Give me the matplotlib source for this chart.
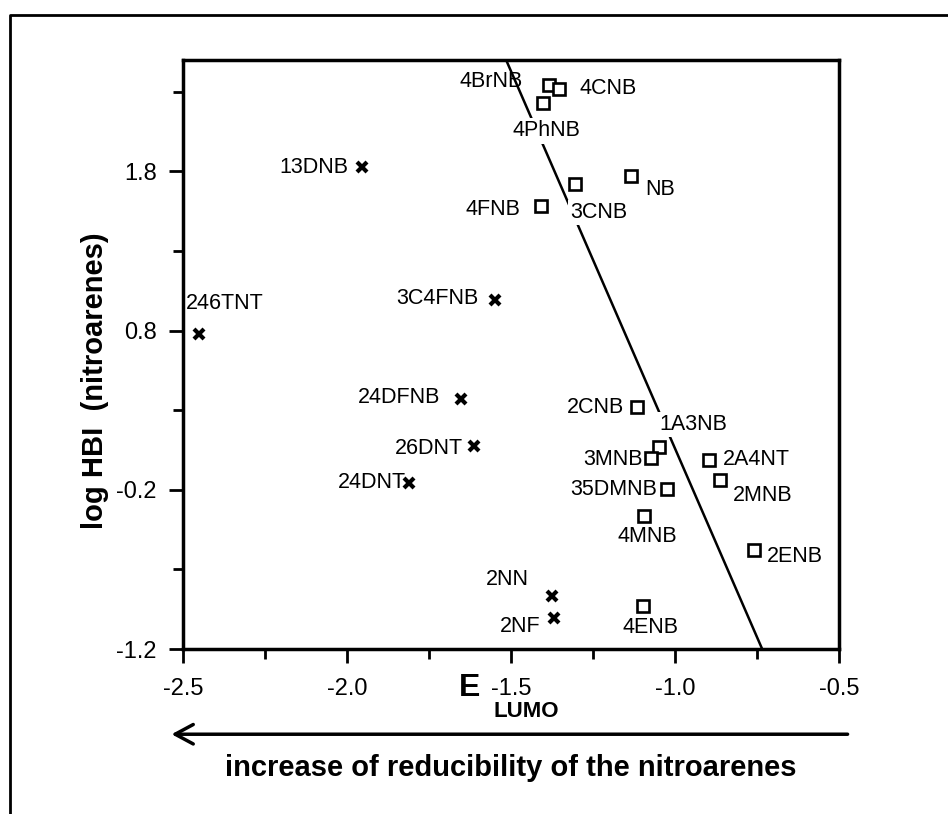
""" Hydrogen-bond index of nitroarenes against LUMO energy. """
import numpy as np
import matplotlib as mpl
mpl.use('Agg')
import matplotlib.pyplot as plt
from matplotlib.lines import Line2D

plt.rcParams['font.family'] = ['Liberation Sans', 'DejaVu Sans']

# mono-substituted / simple nitrobenzenes (open squares)
sq_names = ['4BrNB', '4CNB', '4PhNB', 'NB', '3CNB', '4FNB', '2CNB', '1A3NB',
            '3MNB', '2A4NT', '2MNB', '35DMNB', '4MNB', '2ENB', '4ENB']
sq_elumo = [-1.385, -1.354, -1.403, -1.133, -1.305, -1.408, -1.116, -1.050,
            -1.074, -0.896, -0.864, -1.025, -1.095, -0.760, -1.099]
sq_loghbi = [2.34, 2.315, 2.23, 1.77, 1.72, 1.58, 0.319, 0.07,
             0.0, -0.012, -0.136, -0.196, -0.365, -0.58, -0.933]

# poly-nitro and fused compounds (crosses)
x_names = ['13DNB', '246TNT', '3C4FNB', '24DFNB', '26DNT', '24DNT', '2NN', '2NF']
x_elumo = [-1.954, -2.45, -1.548, -1.651, -1.613, -1.810, -1.376, -1.370]
x_loghbi = [1.825, 0.78, 0.99, 0.368, 0.078, -0.157, -0.867, -1.007]

# regression line for the nitrobenzene series
fit_slope = -4.74
fit_intercept = -4.68
fit_x = [-1.515, -0.734]

# label placement: offset in pixels from the marker (dx, dy)
label_offsets = {
    '4BrNB': (-58, 4), '4CNB': (49, 1), '4PhNB': (4, -28), 'NB': (29, -13),
    '3CNB': (24, -28), '4FNB': (-48, -3), '2CNB': (-41, 0), '1A3NB': (35, 22),
    '3MNB': (-38, -2), '2A4NT': (47, 0), '2MNB': (43, -16), '35DMNB': (-53, 0),
    '4MNB': (3, -20), '2ENB': (41, -6), '4ENB': (8, -21),
    '13DNB': (-48, 0), '246TNT': (25, 30), '3C4FNB': (-58, 2), '24DFNB': (-62, 2),
    '26DNT': (-45, -3), '24DNT': (-37, 0), '2NN': (-44, 16), '2NF': (-33, -8),
}
masking = {'4PhNB', '3CNB', '1A3NB'}

fig = plt.figure(figsize=(9.48, 8.14), dpi=100)
ax = fig.add_axes([0.193, 0.2027, 0.692, 0.7236])

fx = np.array(fit_x)
ax.plot(fx, fit_slope * fx + fit_intercept, color='black', lw=1.8, zorder=1)

ax.plot(sq_elumo, sq_loghbi, ls='none', marker='s', ms=8, mfc='white',
        mec='black', mew=1.9, zorder=4)
ax.plot(x_elumo, x_loghbi, ls='none', marker='x', ms=7.5, color='black',
        mew=3.0, zorder=4)

for names, xs, ys in [(sq_names, sq_elumo, sq_loghbi), (x_names, x_elumo, x_loghbi)]:
    for n, xv, yv in zip(names, xs, ys):
        dx, dy = label_offsets[n]
        bb = dict(facecolor='white', edgecolor='none', pad=1.5) if n in masking else None
        ax.annotate(n, (xv, yv), xytext=(dx, dy), textcoords='offset pixels',
                    ha='center', va='center', fontsize=15.5, bbox=bb, zorder=3)

ax.set_xlim(-2.5, -0.5)
ax.set_ylim(-1.2, 2.5)
ax.set_xticks([-2.5, -2.0, -1.5, -1.0, -0.5])
ax.set_xticklabels(['-2.5', '-2.0', '-1.5', '-1.0', '-0.5'])
ax.set_xticks(np.arange(-2.25, -0.5, 0.5), minor=True)
ax.set_yticks([-1.2, -0.2, 0.8, 1.8])
ax.set_yticklabels(['-1.2', '-0.2', '0.8', '1.8'])
ax.set_yticks([-0.7, 0.3, 1.3, 2.3], minor=True)
ax.tick_params(which='major', direction='out', length=10, width=2, labelsize=17)
ax.tick_params(axis='x', which='major', pad=11)
ax.tick_params(axis='y', which='major', pad=9)
ax.tick_params(which='minor', direction='out', length=7, width=2)
for s in ax.spines.values():
    s.set_linewidth(2.5)

fig.text(0.100, 0.532, 'log HBI  (nitroarenes)', rotation=90, ha='center', va='center',
         fontsize=21, fontweight='bold')
fig.text(0.484, 0.145, 'E', ha='left', va='baseline', fontsize=23, fontweight='bold')
fig.text(0.521, 0.119, 'LUMO', ha='left', va='baseline', fontsize=16, fontweight='bold')

# arrow: direction of increasing reducibility
fig.add_artist(mpl.patches.FancyArrowPatch((0.897, 0.098), (0.178, 0.098),
                                           transform=fig.transFigure,
                                           arrowstyle='->,head_length=13,head_width=7',
                                           lw=2.5, color='black', mutation_scale=1))
fig.text(0.539, 0.056, 'increase of reducibility of the nitroarenes', ha='center',
         va='center', fontsize=21, fontweight='bold')

# outer frame
fig.add_artist(Line2D([0.0105, 0.0105, 1.0], [0.0, 0.9816, 0.9816],
                      transform=fig.transFigure, color='black', lw=2))

fig.savefig('out.png', dpi=100)
